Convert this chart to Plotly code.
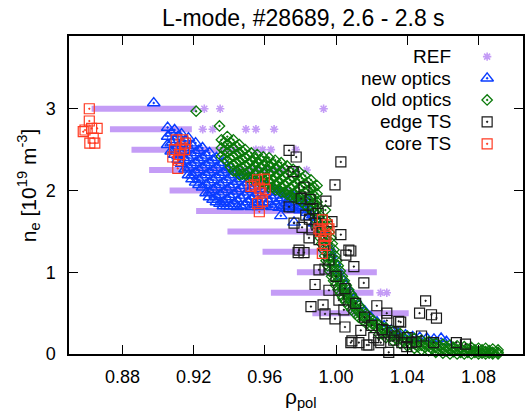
import plotly.graph_objects as go

# ---------------- data ----------------
# REF: reflectometry layers, horizontal bands of density
REF_LEVELS = [3.0, 2.75, 2.5, 2.25, 2.0, 1.75, 1.5, 1.25, 1.0, 0.75, 0.5]
REF_START = [0.8627, 0.8730, 0.8851, 0.8950, 0.9065, 0.9214, 0.9390, 0.9587, 0.9780, 0.9634, 0.9867]
REF_END = [0.9214, 0.9190, 0.9457, 0.9700, 0.9750, 0.9800, 0.9900, 1.0000, 1.0229, 1.0210, 1.0408]
REF_SPARSE = [
    (0.9260, 3.0), (0.9349, 3.0), (0.9930, 3.0),
    (0.9251, 2.75), (0.9307, 2.75), (0.9494, 2.75), (0.9550, 2.75), (0.9652, 2.75),
    (0.9550, 2.5), (0.9587, 2.5), (0.9634, 2.5), (0.9774, 2.5),
    (0.9700, 2.25), (0.9776, 2.25), (0.9835, 2.25),
    (1.0250, 0.75), (1.0285, 0.75),
]

NEW_OPTICS = [
    (0.8976, 3.07),
    (0.9054, 2.77), (0.9054, 2.66), (0.9054, 2.56),
    (0.9074, 2.70), (0.9074, 2.58), (0.9074, 2.48),
    (0.9093, 2.74), (0.9093, 2.62), (0.9093, 2.50), (0.9093, 2.44),
    (0.9113, 2.66), (0.9113, 2.54), (0.9113, 2.42), (0.9113, 2.38),
    (0.9132, 2.69), (0.9132, 2.57), (0.9132, 2.45), (0.9132, 2.33),
    (0.9152, 2.61), (0.9152, 2.49), (0.9152, 2.37), (0.9152, 2.26),
    (0.9171, 2.64), (0.9171, 2.52), (0.9171, 2.40), (0.9171, 2.28), (0.9171, 2.19),
    (0.9191, 2.55), (0.9191, 2.43), (0.9191, 2.31), (0.9191, 2.19), (0.9191, 2.14),
    (0.9211, 2.58), (0.9211, 2.46), (0.9211, 2.34), (0.9211, 2.22), (0.9211, 2.10),
    (0.9230, 2.49), (0.9230, 2.37), (0.9230, 2.25), (0.9230, 2.13), (0.9230, 2.07),
    (0.9250, 2.52), (0.9250, 2.40), (0.9250, 2.28), (0.9250, 2.16), (0.9250, 2.04),
    (0.9270, 2.43), (0.9270, 2.31), (0.9270, 2.19), (0.9270, 2.07), (0.9270, 1.97),
    (0.9289, 2.46), (0.9289, 2.34), (0.9289, 2.22), (0.9289, 2.10), (0.9289, 1.98), (0.9289, 1.92),
    (0.9309, 2.37), (0.9309, 2.25), (0.9309, 2.13), (0.9309, 2.01), (0.9309, 1.89),
    (0.9328, 2.40), (0.9328, 2.28), (0.9328, 2.16), (0.9328, 2.04), (0.9328, 1.92), (0.9328, 1.86),
    (0.9348, 2.31), (0.9348, 2.19), (0.9348, 2.07), (0.9348, 1.95), (0.9348, 1.84),
    (0.9367, 2.34), (0.9367, 2.22), (0.9367, 2.10), (0.9367, 1.98), (0.9367, 1.86), (0.9367, 1.81),
    (0.9387, 2.25), (0.9387, 2.13), (0.9387, 2.01), (0.9387, 1.89), (0.9387, 1.81),
    (0.9406, 2.28), (0.9406, 2.16), (0.9406, 2.04), (0.9406, 1.92), (0.9406, 1.81),
    (0.9426, 2.19), (0.9426, 2.07), (0.9426, 1.95), (0.9426, 1.84),
    (0.9445, 2.23), (0.9445, 2.11), (0.9445, 1.99), (0.9445, 1.87), (0.9445, 1.80),
    (0.9465, 2.14), (0.9465, 2.02), (0.9465, 1.90), (0.9465, 1.81),
    (0.9485, 2.18), (0.9485, 2.06), (0.9485, 1.94), (0.9485, 1.82),
    (0.9505, 2.10), (0.9505, 1.98), (0.9505, 1.86),
    (0.9524, 2.13), (0.9524, 2.01), (0.9524, 1.89), (0.9524, 1.80),
    (0.9544, 2.05), (0.9544, 1.93), (0.9544, 1.83),
    (0.9563, 2.09), (0.9563, 1.97), (0.9563, 1.85), (0.9563, 1.80),
    (0.9583, 2.02), (0.9583, 1.90), (0.9583, 1.81),
    (0.9602, 2.06), (0.9602, 1.94), (0.9602, 1.82),
    (0.9622, 1.98), (0.9622, 1.86),
    (0.9641, 2.02), (0.9641, 1.90), (0.9641, 1.80),
    (0.9661, 1.94), (0.9661, 1.83),
    (0.9680, 1.98), (0.9680, 1.87), (0.9680, 1.79),
    (0.9700, 1.91), (0.9700, 1.81),
    (0.9720, 1.96), (0.9720, 1.85), (0.9720, 1.78),
    (0.9740, 1.89), (0.9740, 1.80),
    (0.9759, 1.93), (0.9759, 1.83), (0.9759, 1.77),
    (0.9779, 1.86), (0.9779, 1.79),
    (0.9798, 1.91), (0.9798, 1.81), (0.9798, 1.76),
    (0.9818, 1.84), (0.9818, 1.77),
    (0.9837, 1.88), (0.9837, 1.79), (0.9837, 1.73),
    (0.9690, 1.69), (0.9764, 1.61),
    (0.9850, 1.68), (0.9880, 1.60), (0.9870, 1.70), (0.9890, 1.62),
    (0.9920, 1.52), (0.9935, 1.42), (0.9955, 1.32), (0.9972, 1.22),
    (0.9990, 1.12), (1.0010, 1.02), (1.0032, 0.92), (1.0052, 0.84),
    (1.0078, 0.76), (1.0104, 0.68), (1.0130, 0.60), (1.0162, 0.52),
    (1.0195, 0.45), (1.0230, 0.39), (1.0270, 0.34), (1.0310, 0.29),
    (1.0350, 0.25), (1.0390, 0.23), (1.0430, 0.21), (1.0470, 0.20),
    (1.0510, 0.19), (1.0550, 0.18), (1.0590, 0.19), (1.0620, 0.15),
]

OLD_OPTICS = [
    (0.9214, 2.97), (0.9345, 2.79),
    (0.9356, 2.62), (0.9356, 2.52), (0.9356, 2.42),
    (0.9373, 2.59), (0.9373, 2.49), (0.9373, 2.39),
    (0.9389, 2.66), (0.9389, 2.56), (0.9389, 2.46), (0.9389, 2.36),
    (0.9406, 2.59), (0.9406, 2.49), (0.9406, 2.39), (0.9406, 2.29),
    (0.9423, 2.62), (0.9423, 2.52), (0.9423, 2.42), (0.9423, 2.32), (0.9423, 2.24),
    (0.9440, 2.54), (0.9440, 2.44), (0.9440, 2.34), (0.9440, 2.24),
    (0.9457, 2.56), (0.9457, 2.46), (0.9457, 2.36), (0.9457, 2.26), (0.9457, 2.19),
    (0.9474, 2.48), (0.9474, 2.38), (0.9474, 2.28), (0.9474, 2.20),
    (0.9490, 2.50), (0.9490, 2.40), (0.9490, 2.30), (0.9490, 2.20),
    (0.9507, 2.43), (0.9507, 2.33), (0.9507, 2.23), (0.9507, 2.16),
    (0.9524, 2.46), (0.9524, 2.36), (0.9524, 2.26), (0.9524, 2.16),
    (0.9541, 2.40), (0.9541, 2.30), (0.9541, 2.20), (0.9541, 2.12),
    (0.9557, 2.44), (0.9557, 2.34), (0.9557, 2.24), (0.9557, 2.14),
    (0.9574, 2.38), (0.9574, 2.28), (0.9574, 2.18), (0.9574, 2.10),
    (0.9591, 2.41), (0.9591, 2.31), (0.9591, 2.21), (0.9591, 2.11),
    (0.9608, 2.35), (0.9608, 2.25), (0.9608, 2.15), (0.9608, 2.07),
    (0.9624, 2.40), (0.9624, 2.30), (0.9624, 2.20), (0.9624, 2.10), (0.9624, 2.04),
    (0.9641, 2.33), (0.9641, 2.23), (0.9641, 2.13), (0.9641, 2.04),
    (0.9658, 2.37), (0.9658, 2.27), (0.9658, 2.17), (0.9658, 2.07), (0.9658, 2.01),
    (0.9675, 2.30), (0.9675, 2.20), (0.9675, 2.10), (0.9675, 2.01),
    (0.9692, 2.34), (0.9692, 2.24), (0.9692, 2.14), (0.9692, 2.04), (0.9692, 1.98),
    (0.9709, 2.27), (0.9709, 2.17), (0.9709, 2.07), (0.9709, 1.98),
    (0.9725, 2.30), (0.9725, 2.20), (0.9725, 2.10), (0.9725, 2.00), (0.9725, 1.95),
    (0.9742, 2.23), (0.9742, 2.13), (0.9742, 2.03), (0.9742, 1.94),
    (0.9759, 2.26), (0.9759, 2.16), (0.9759, 2.06), (0.9759, 1.96), (0.9759, 1.91),
    (0.9776, 2.19), (0.9776, 2.09), (0.9776, 1.99), (0.9776, 1.91),
    (0.9792, 2.23), (0.9792, 2.13), (0.9792, 2.03), (0.9792, 1.93), (0.9792, 1.89),
    (0.9809, 2.15), (0.9809, 2.05), (0.9809, 1.95), (0.9809, 1.86),
    (0.9826, 2.18), (0.9826, 2.08), (0.9826, 1.98), (0.9826, 1.88), (0.9826, 1.82),
    (0.9843, 2.10), (0.9843, 2.00), (0.9843, 1.90), (0.9843, 1.80),
    (0.9859, 2.13), (0.9859, 2.03), (0.9859, 1.93), (0.9859, 1.83), (0.9859, 1.76),
    (0.9876, 2.04), (0.9876, 1.94), (0.9876, 1.84), (0.9876, 1.74),
    (0.9893, 2.06), (0.9893, 1.96), (0.9893, 1.86), (0.9893, 1.76), (0.9893, 1.70),
    (0.9940, 1.76), (0.9893, 1.82),
    (0.9885, 1.64), (0.9915, 1.64), (0.9945, 1.64),
    (0.9894, 1.565), (0.9924, 1.565), (0.9954, 1.565),
    (0.9902, 1.49), (0.9932, 1.49), (0.9962, 1.49),
    (0.9911, 1.42), (0.9941, 1.42), (0.9971, 1.42),
    (0.9919, 1.35), (0.9949, 1.35), (0.9979, 1.35),
    (0.9928, 1.275), (0.9958, 1.275), (0.9988, 1.275),
    (0.9936, 1.20), (0.9966, 1.20), (0.9996, 1.20),
    (0.9944, 1.14), (0.9974, 1.14), (1.0004, 1.14),
    (0.9952, 1.08), (0.9982, 1.08), (1.0012, 1.08),
    (0.9964, 1.015), (0.9994, 1.015), (1.0024, 1.015),
    (0.9975, 0.95), (1.0005, 0.95), (1.0035, 0.95),
    (0.9986, 0.895), (1.0016, 0.895), (1.0046, 0.895),
    (0.9997, 0.84), (1.0027, 0.84), (1.0057, 0.84),
    (1.0011, 0.785), (1.0041, 0.785), (1.0071, 0.785),
    (1.0025, 0.73), (1.0055, 0.73), (1.0085, 0.73),
    (1.0039, 0.685), (1.0069, 0.685), (1.0099, 0.685),
    (1.0053, 0.64), (1.0083, 0.64), (1.0113, 0.64),
    (1.0070, 0.59), (1.0100, 0.59), (1.0130, 0.59),
    (1.0087, 0.54), (1.0117, 0.54), (1.0147, 0.54),
    (1.0107, 0.495), (1.0137, 0.495), (1.0167, 0.495),
    (1.0126, 0.45), (1.0156, 0.45), (1.0186, 0.45),
    (1.0149, 0.41), (1.0179, 0.41), (1.0209, 0.41),
    (1.0171, 0.37), (1.0201, 0.37), (1.0231, 0.37),
    (1.0196, 0.335), (1.0226, 0.335), (1.0256, 0.335),
    (1.024, 0.30), (1.024, 0.36), (1.024, 0.24),
    (1.026, 0.31), (1.026, 0.25),
    (1.028, 0.26), (1.028, 0.32), (1.028, 0.20),
    (1.030, 0.27), (1.030, 0.21),
    (1.032, 0.22), (1.032, 0.28), (1.032, 0.16),
    (1.034, 0.23), (1.034, 0.18),
    (1.036, 0.19), (1.036, 0.25), (1.036, 0.13),
    (1.038, 0.20), (1.038, 0.15),
    (1.040, 0.16), (1.040, 0.22), (1.040, 0.10),
    (1.042, 0.17), (1.042, 0.12),
    (1.044, 0.13), (1.044, 0.19), (1.044, 0.07),
    (1.046, 0.15), (1.046, 0.09),
    (1.048, 0.11), (1.048, 0.17), (1.048, 0.05),
    (1.050, 0.13), (1.050, 0.08),
    (1.052, 0.10), (1.052, 0.15), (1.052, 0.04),
    (1.054, 0.12), (1.054, 0.06),
    (1.056, 0.08), (1.056, 0.13), (1.056, 0.02),
    (1.058, 0.10), (1.058, 0.05),
    (1.060, 0.07), (1.060, 0.12), (1.060, 0.01),
    (1.062, 0.09), (1.062, 0.04),
    (1.064, 0.06), (1.064, 0.11), (1.064, 0.00),
    (1.066, 0.08), (1.066, 0.03),
    (1.068, 0.05), (1.068, 0.10), (1.068, 0.00),
    (1.070, 0.07), (1.070, 0.02),
    (1.072, 0.04), (1.072, 0.09), (1.072, 0.00),
    (1.074, 0.06), (1.074, 0.02),
    (1.076, 0.04), (1.076, 0.08), (1.076, 0.00),
    (1.078, 0.05), (1.078, 0.02),
    (1.080, 0.03), (1.080, 0.07), (1.080, 0.00),
    (1.082, 0.05), (1.082, 0.01),
    (1.084, 0.03), (1.084, 0.07), (1.084, 0.00),
    (1.086, 0.04), (1.086, 0.01),
    (1.088, 0.02), (1.088, 0.06), (1.088, 0.00),
    (1.091, 0.02), (1.091, 0.05), (1.091, 0.00),
]

EDGE_TS = [
    (0.9736, 2.49), (0.9776, 2.41), (0.9759, 2.23), (0.9820, 2.04), (0.9854, 1.89),
    (0.9804, 1.90), (0.9736, 1.80), (0.9764, 1.60), (0.9809, 1.55), (0.9865, 1.52),
    (0.9887, 1.60), (0.9848, 1.42), (0.9792, 1.27), (0.9820, 1.24), (0.9943, 1.87),
    (0.9994, 2.07), (1.0027, 2.35), (0.9977, 1.62), (1.0027, 1.46), (1.0072, 1.27),
    (1.0100, 1.07), (1.0055, 1.21), (1.0156, 0.87), (0.9882, 0.85), (0.9859, 0.58),
    (0.9927, 0.60), (0.9938, 0.49), (0.9994, 0.43), (1.0050, 0.33), (1.0083, 1.26),
    (1.0229, 0.59), (1.0285, 0.50), (1.0352, 0.40), (1.0503, 0.65), (1.0469, 0.50),
    (1.0536, 0.48), (1.0564, 0.44), (1.0480, 0.22), (1.0548, 0.14), (1.0676, 0.14),
    (1.0727, 0.12), (1.0424, 0.14), (1.0296, 0.02), (1.0251, 0.14), (1.0083, 0.14),
    (1.0173, 0.11), (1.0313, 0.26), (1.0285, 0.41), (1.0369, 0.14), (1.0397, 0.09),
    (1.0128, 0.14), (1.0089, 0.16), (1.0184, 0.11), (1.0240, 0.17), (0.9938, 1.04),
    (0.9904, 1.03), (0.9787, 1.24), (0.9960, 0.78), (1.0016, 0.66), (1.0044, 0.54),
    (1.0139, 0.29), (1.0212, 0.20), (1.0324, 0.17), (0.9960, 1.15), (0.9932, 1.33),
    (0.9904, 1.40), (1.0363, 0.39), (1.0000, 0.95), (1.0050, 0.80), (1.0110, 0.62),
    (1.0160, 0.45), (1.0200, 0.35), (1.0260, 0.30), (1.0330, 0.22), (1.0400, 0.20),
    (1.0450, 0.15), (0.9850, 1.65), (0.9900, 1.72), (0.9870, 1.78), (0.9830, 1.70),
]

CORE_TS = [
    (0.8614, 3.00), (0.8614, 2.85), (0.8590, 2.74), (0.8627, 2.76), (0.8658, 2.76),
    (0.8580, 2.72), (0.8617, 2.58), (0.8645, 2.58), (0.8636, 2.64),
    (0.9102, 2.62), (0.9139, 2.62), (0.9093, 2.50), (0.9130, 2.52), (0.9149, 2.50),
    (0.9083, 2.41), (0.9121, 2.44), (0.9111, 2.27), (0.9155, 2.58), (0.9115, 2.37),
    (0.9559, 2.13), (0.9597, 2.14), (0.9541, 2.07), (0.9569, 2.03), (0.9578, 1.97),
    (0.9559, 1.84), (0.9587, 1.87), (0.9569, 1.74), (0.9602, 2.01), (0.9522, 2.05),
    (0.9923, 1.64), (0.9951, 1.58), (0.9904, 1.53), (0.9960, 1.53), (0.9932, 1.40),
    (0.9914, 1.50), (0.9923, 1.23), (0.9943, 1.44), (0.9938, 1.33),
]

SERIES_NAMES = ["REF", "new optics", "old optics", "edge TS", "core TS"]
X_TICKS = [0.88, 0.92, 0.96, 1.00, 1.04, 1.08]
Y_TICKS = [0, 1, 2, 3]

# ---------------- styles ----------------
PURPLE = "#c49cf6"
BLUE = "#0a3cff"
GREEN = "#0b7a0b"
BLACK = "#1a1a1a"
RED = "#ff3a22"
FONT = "Liberation Sans, Arial, Helvetica, sans-serif"

STYLES = [
    dict(symbol="asterisk-open", size=7, color=PURPLE, width=1.6),
    dict(symbol="triangle-up-open-dot", size=11, color=BLUE, width=1.4),
    dict(symbol="diamond-open-dot", size=8, color=GREEN, width=1.3),
    dict(symbol="square-open-dot", size=10, color=BLACK, width=1.2),
    dict(symbol="square-open-dot", size=10, color=RED, width=1.2),
]


def marker(st):
    return dict(symbol=st["symbol"], size=st["size"], color=st["color"],
                line=dict(color=st["color"], width=st["width"]))


fig = go.Figure()

# REF bands
for lvl, a, b in zip(REF_LEVELS, REF_START, REF_END):
    fig.add_trace(go.Scatter(x=[a, b], y=[lvl, lvl], mode="lines",
                             line=dict(color=PURPLE, width=6),
                             showlegend=False, hoverinfo="skip"))
fig.add_trace(go.Scatter(x=[p[0] for p in REF_SPARSE], y=[p[1] for p in REF_SPARSE],
                         mode="markers", marker=marker(STYLES[0]), showlegend=False))

for data, st in zip([NEW_OPTICS, OLD_OPTICS, EDGE_TS, CORE_TS], STYLES[1:]):
    fig.add_trace(go.Scatter(x=[p[0] for p in data], y=[p[1] for p in data],
                             mode="markers", marker=marker(st), showlegend=False,
                             cliponaxis=False))

# Legend (text right-aligned, symbol to the right, gnuplot style)
LEG_Y = [0.935, 0.867, 0.799, 0.730, 0.661]
for name, st, ly in zip(SERIES_NAMES, STYLES, LEG_Y):
    fig.add_trace(go.Scatter(x=[0.921], y=[ly], xaxis="x2", yaxis="y2",
                             mode="markers", marker=marker(st), showlegend=False,
                             hoverinfo="skip"))
    fig.add_annotation(x=0.8465, y=ly, xref="paper", yref="paper", text=name,
                       xanchor="right", yanchor="middle", showarrow=False,
                       font=dict(family=FONT, size=19, color="black"))

axis_common = dict(showgrid=False, zeroline=False, showline=True, linecolor="black",
                   linewidth=1.5, mirror="ticks", ticks="inside", ticklen=9,
                   tickwidth=1.2, tickcolor="black",
                   tickfont=dict(family=FONT, size=18, color="black"))

fig.update_layout(
    width=526, height=412,
    margin=dict(l=69, r=1, t=36, b=58),
    paper_bgcolor="white", plot_bgcolor="white",
    showlegend=False,
    title=dict(text="L-mode, #28689, 2.6 - 2.8 s", x=0.5766, xref="container",
               xanchor="center", y=0.957, yref="container", yanchor="middle",
               font=dict(family=FONT, size=23, color="black")),
    xaxis=dict(range=[0.85, 1.105], tickvals=X_TICKS,
               ticktext=[f"{v:.2f}" for v in X_TICKS], ticklabelstandoff=6,
               **axis_common),
    yaxis=dict(range=[0, 3.89], tickvals=Y_TICKS, ticklabelstandoff=8,
               **axis_common),
    xaxis2=dict(range=[0, 1], overlaying="x", visible=False, fixedrange=True),
    yaxis2=dict(range=[0, 1], overlaying="y", visible=False, fixedrange=True),
)

fig.add_annotation(x=(302 - 69) / 456, y=-0.138, xref="paper", yref="paper",
                   text="ρ<sub>pol</sub>", showarrow=False, xanchor="center",
                   yanchor="middle", font=dict(family=FONT, size=21, color="black"))
fig.add_annotation(x=(28 - 69) / 456, y=(354 - 186) / 318, xref="paper", yref="paper",
                   text="n<sub>e</sub> [10<sup>19</sup> m<sup>-3</sup>]", textangle=-90,
                   showarrow=False, xanchor="center", yanchor="middle",
                   font=dict(family=FONT, size=21, color="black"))

fig.write_html("out.html")
